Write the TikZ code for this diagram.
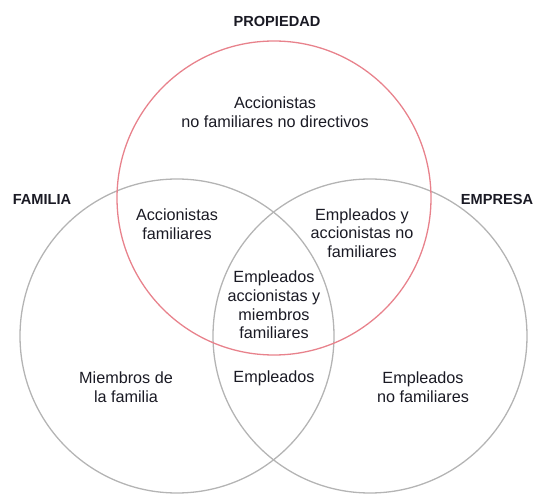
\documentclass[tikz,border=0pt]{standalone}
\usepackage{fontspec}
\setmainfont{Liberation Sans}
\definecolor{ringgray}{HTML}{B4B4B4}
\definecolor{ringred}{HTML}{E8828C}
\definecolor{txt}{HTML}{1A1A24}
\begin{document}
\begin{tikzpicture}[x=1pt,y=1pt,
  ring/.style={circle,draw=ringgray,line width=1.3pt,minimum size=314pt,inner sep=0pt},
  redring/.style={ring,draw=ringred},
  lbl/.style={align=center,text=txt,font=\fontsize{16.2}{18.6}\selectfont,inner sep=0pt},
  head/.style={text=txt,font=\fontsize{14.6}{17}\selectfont\bfseries,inner sep=0pt}]
\useasboundingbox (0,0) rectangle (533,493);
\node[ring] (fam) at (177,157) {};
\node[ring] (emp) at (370,157) {};
\node[redring] (prop) at (274,295) {};
\node[head] (hprop) at (277,472) {PROPIEDAD};
\node[head] (hfam) at (42,294) {FAMILIA};
\node[head] (hemp) at (497,294) {EMPRESA};
\node[lbl] (a) at (275,380.5) {Accionistas\\no familiares no directivos};
\node[lbl] (b) at (177,269) {Accionistas\\familiares};
\node[lbl] (c) at (362,260) {Empleados y\\accionistas no\\familiares};
\node[lbl] (d) at (274,188) {Empleados\\accionistas y\\miembros\\familiares};
\node[lbl] (e) at (126,105.5) {Miembros de\\la familia};
\node[lbl] (f) at (274,115) {Empleados};
\node[lbl] (g) at (423,105.5) {Empleados\\no familiares};
\end{tikzpicture}
\end{document}
